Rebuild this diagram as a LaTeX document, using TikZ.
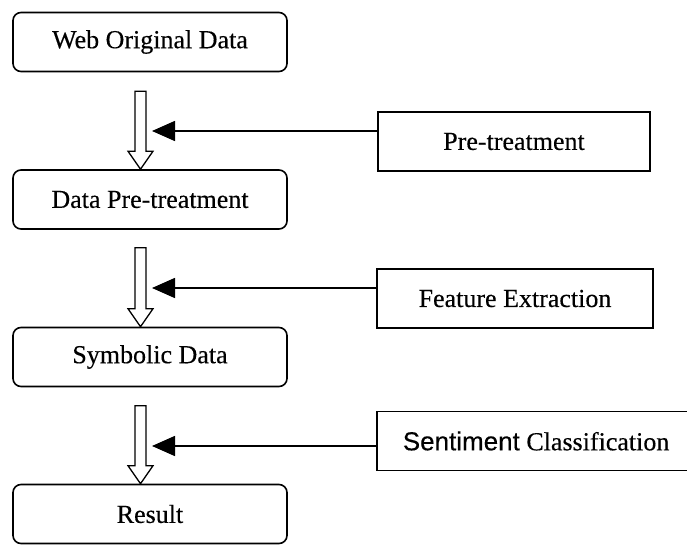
\documentclass[tikz,border=0pt]{standalone}
\usepackage{fontspec}
\setmainfont{Liberation Serif}[FakeBold=0.3]
\newfontfamily\arialfont{Liberation Sans}[FakeBold=0.3]
\usetikzlibrary{arrows.meta}
\tikzset{stage/.style={draw,rounded corners=8pt,line width=1.6pt,
   minimum width=274pt,minimum height=59pt,font=\fontsize{26}{31}\selectfont},
 treat/.style={draw,line width=1.6pt,minimum height=59pt,
   font=\fontsize{26}{31}\selectfont},
 hollow/.style={draw,line width=1.3pt,line join=miter},
 feed/.style={-{Triangle[length=23pt,width=20pt]},line width=1.6pt},
 }

\begin{document}
\begin{tikzpicture}[x=1pt,y=1pt]
        \useasboundingbox (0,0) rectangle (687,-544);
        \clip (0,0) rectangle (687,-544);
        % main flow on the left
        \node[stage] (web) at (150,-42) {Web Original Data};
        \node[stage] (pre) at (150,-199.5) {Data Pre-treatment};
        \node[stage] (sym) at (150,-357) {Symbolic Data};
        \node[stage] (res) at (150,-514) {Result};
        % open block arrows between the stages
        \draw[hollow] ([xshift=-9.5pt]pre.north) -- ++(-12.5,18) -- ++(7,0)
            -- ++(0,60) -- ++(11,0) -- ++(0,-60) -- ++(7,0) -- cycle;
        \draw[hollow] ([xshift=-9.5pt]sym.north) -- ++(-12.5,18) -- ++(7,0)
            -- ++(0,61) -- ++(11,0) -- ++(0,-61) -- ++(7,0) -- cycle;
        \draw[hollow] ([xshift=-9.5pt]res.north) -- ++(-12.5,18) -- ++(7,0)
            -- ++(0,60) -- ++(11,0) -- ++(0,-60) -- ++(7,0) -- cycle;
        % processing steps on the right
        \node[treat,minimum width=272pt] (ptr) at (514,-141.5) {Pre-treatment};
        \node[treat,minimum width=276pt] (fex) at (515,-298.5) {Feature Extraction};
        \node[treat,anchor=west,inner xsep=26pt] (cls) at (376,-441)
            {{\arialfont Sentiment} Classification};
        \coordinate (f1) at (152,-131);
        \coordinate (f2) at (152,-288);
        \coordinate (f3) at (152,-446);
        \draw[feed] (ptr.west |- f1) -- (f1);
        \draw[feed] (fex.west |- f2) -- (f2);
        \draw[feed] (cls.west |- f3) -- (f3);
    \end{tikzpicture}
\end{document}
